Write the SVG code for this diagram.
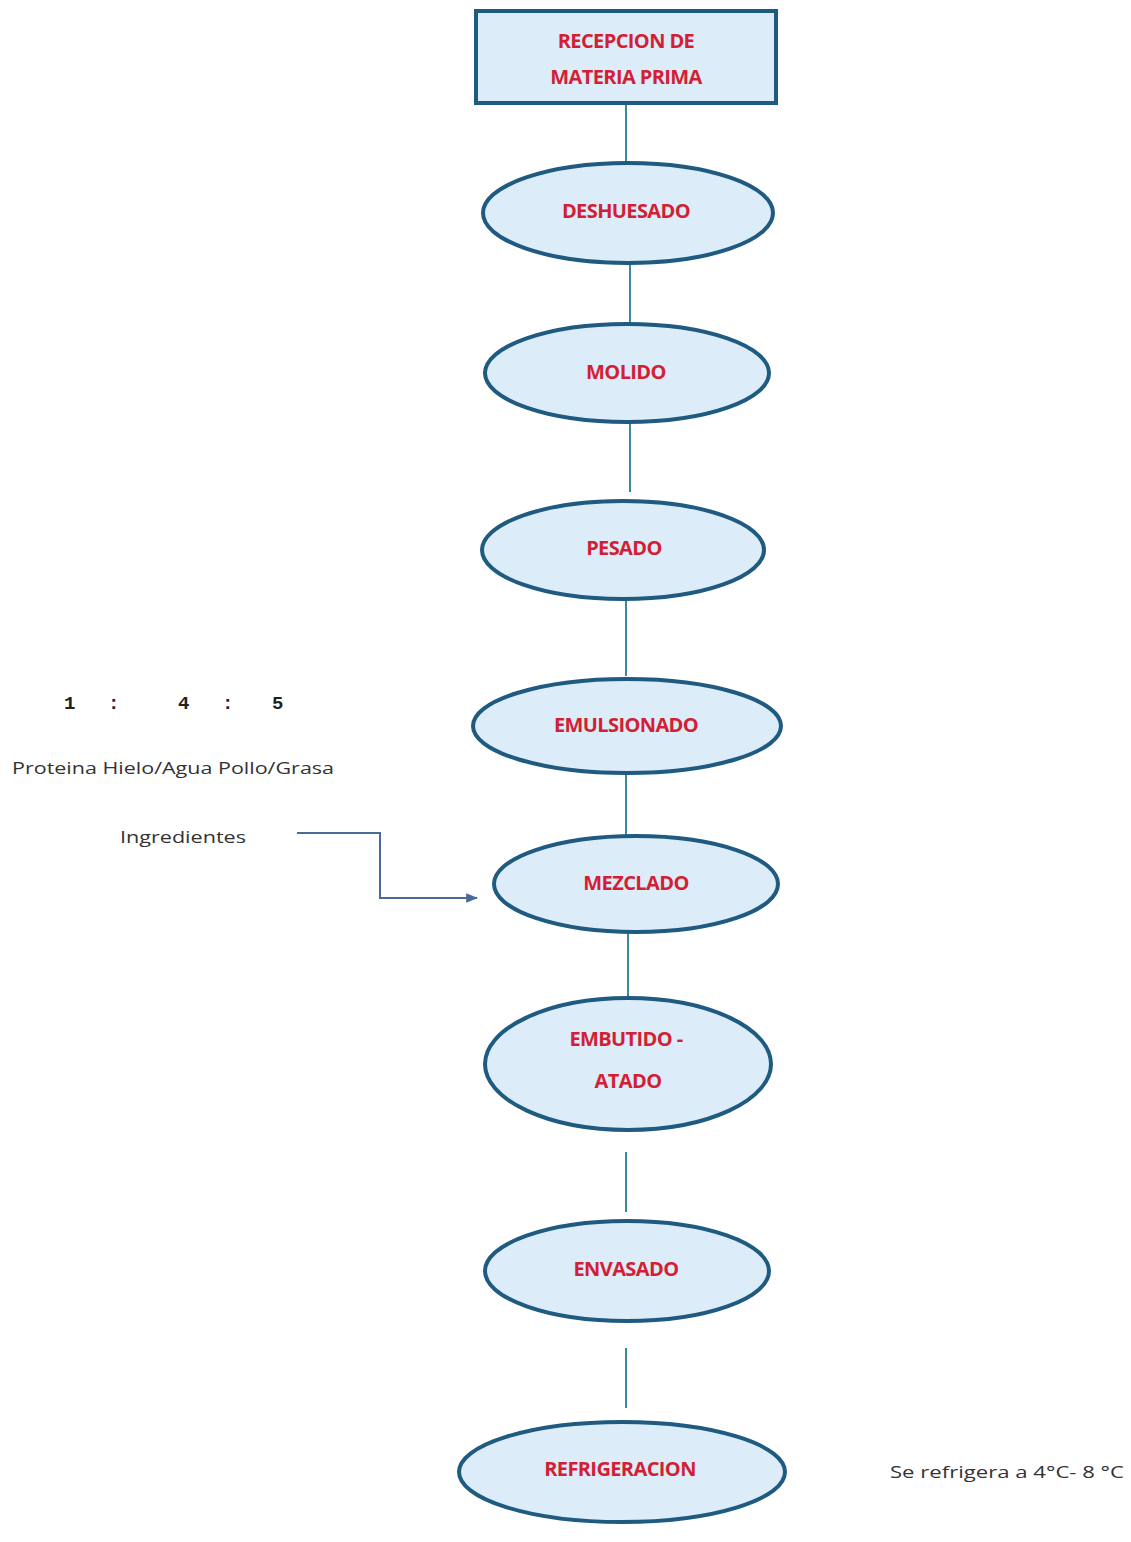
<svg xmlns="http://www.w3.org/2000/svg" width="1131" height="1542" viewBox="0 0 1131 1542">
<style>
.node{fill:#dcecf8;stroke:#1f5a80;stroke-width:4}
.lbl{font-family:"Open Sans","Liberation Sans",sans-serif;font-weight:bold;font-size:20px;fill:#d21f35;text-anchor:middle;letter-spacing:-0.6px}
.note{font-family:"Open Sans","Liberation Sans",sans-serif;font-size:17px;fill:#333}
.num{font-family:"Liberation Mono",monospace;font-size:19px;font-weight:bold;fill:#222}
.conn line{stroke:#3a8a9c;stroke-width:2}
</style>
<defs>
<marker id="arr" viewBox="0 0 10 10" refX="9" refY="5" markerWidth="12" markerHeight="12" orient="auto" markerUnits="userSpaceOnUse">
<path d="M0,1 L10,5 L0,9 z" fill="#4a6a9a"/>
</marker>
</defs>
<rect width="1131" height="1542" fill="#ffffff"/>
<g class="conn" id="connectors">
<line x1="626" y1="104" x2="626" y2="163"/>
<line x1="630" y1="264" x2="630" y2="322"/>
<line x1="630" y1="422" x2="630" y2="492"/>
<line x1="626" y1="600" x2="626" y2="676"/>
<line x1="626" y1="774" x2="626" y2="836"/>
<line x1="628" y1="932" x2="628" y2="1000"/>
<line x1="626" y1="1152" x2="626" y2="1212"/>
<line x1="626" y1="1348" x2="626" y2="1408"/>
<polyline points="297,833 380,833 380,898 477,898" fill="none" stroke="#4a6a9a" stroke-width="2" marker-end="url(#arr)"/>
</g>
<g id="n-recepcion">
<rect class="node" x="476" y="11" width="300" height="92"/>
<text class="lbl" x="626" y="48">RECEPCION DE</text>
<text class="lbl" x="626" y="84">MATERIA PRIMA</text>
</g>
<g id="n-deshuesado">
<ellipse class="node" cx="628" cy="213" rx="145" ry="50"/>
<text class="lbl" x="626" y="218">DESHUESADO</text>
</g>
<g id="n-molido">
<ellipse class="node" cx="627" cy="373" rx="142" ry="49"/>
<text class="lbl" x="626" y="379">MOLIDO</text>
</g>
<g id="n-pesado">
<ellipse class="node" cx="623" cy="550" rx="141" ry="49"/>
<text class="lbl" x="624" y="555">PESADO</text>
</g>
<g id="n-emulsionado">
<ellipse class="node" cx="627" cy="726" rx="154" ry="47"/>
<text class="lbl" x="626" y="732">EMULSIONADO</text>
</g>
<g id="n-mezclado">
<ellipse class="node" cx="636" cy="884" rx="142" ry="48"/>
<text class="lbl" x="636" y="890">MEZCLADO</text>
</g>
<g id="n-embutido">
<ellipse class="node" cx="628" cy="1064" rx="143" ry="66"/>
<text class="lbl" x="626" y="1046">EMBUTIDO -</text>
<text class="lbl" x="628" y="1088">ATADO</text>
</g>
<g id="n-envasado">
<ellipse class="node" cx="627" cy="1271" rx="142" ry="50"/>
<text class="lbl" x="626" y="1276">ENVASADO</text>
</g>
<g id="n-refrigeracion">
<ellipse class="node" cx="622" cy="1472" rx="163" ry="50"/>
<text class="lbl" x="620" y="1476">REFRIGERACION</text>
</g>
<g id="notes">
<text class="num" x="64" y="709">1</text>
<text class="num" x="108" y="709">:</text>
<text class="num" x="178" y="709">4</text>
<text class="num" x="222" y="709">:</text>
<text class="num" x="272" y="709">5</text>
<text class="note" x="12" y="774" textLength="322" lengthAdjust="spacingAndGlyphs">Proteina Hielo/Agua Pollo/Grasa</text>
<text class="note" x="120" y="843" textLength="126" lengthAdjust="spacingAndGlyphs">Ingredientes</text>
<text class="note" x="890" y="1478" textLength="234" lengthAdjust="spacingAndGlyphs">Se refrigera a 4°C- 8 °C</text>
</g>
</svg>
